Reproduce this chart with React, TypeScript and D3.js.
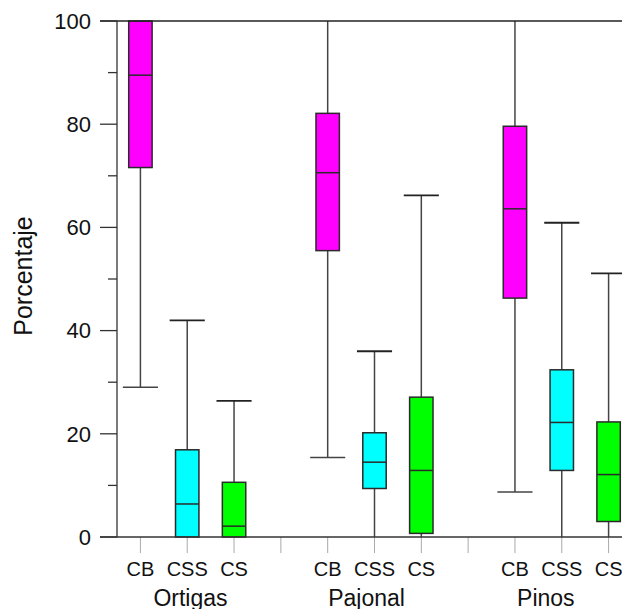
import React from 'react';
import * as d3 from 'd3';

// slots: each group takes 3 slots plus one empty slot between groups
const groups = ['Ortigas', 'Pajonal', 'Pinos'];
const types = ['CB', 'CSS', 'CS'];
const typeColors = ['#ff00ff', '#00ffff', '#00ff00'];
// where the group names sit, in slot units (they are not quite centred)
const groupLabelSlots = [1.07, 4.83, 8.66];

// [min, q1, median, q3, max] per group
const cbStats = [
  [29.0, 71.6, 89.5, 100, 100],
  [15.4, 55.5, 70.6, 82.1, 100],
  [8.7, 46.3, 63.6, 79.6, 100],
];
const cssStats = [
  [0, 0, 6.4, 16.9, 42.0],
  [0, 9.4, 14.5, 20.2, 36.0],
  [0, 12.9, 22.2, 32.4, 60.9],
];
const csStats = [
  [0, 0, 2.1, 10.6, 26.4],
  [0, 0.7, 12.9, 27.1, 66.2],
  [0, 3.0, 12.1, 22.3, 51.1],
];
const yTicks = [0, 10, 20, 30, 40, 50, 60, 70, 80, 90, 100];

const W = 622;
const H = 609;
const left = 117;
const top = 21;
const bottom = 537;
const font = 'Arial, "Liberation Sans", Helvetica, sans-serif';

export default function App() {
  const x = d3.scaleLinear().domain([-0.5, 10.5]).range([left, 632]);
  const y = d3.scaleLinear().domain([0, 100]).range([bottom, top]);
  const step = x(1) - x(0);
  const boxW = step * 0.5;
  const capW = step * 0.75;

  const allStats = [cbStats, cssStats, csStats];
  const boxes: any[] = [];
  groups.forEach((g, gi) => {
    types.forEach((t, ti) => {
      const [mn, q1, md, q3, mx] = allStats[ti][gi];
      const cx = x(gi * 4 + ti);
      boxes.push({ key: g + t, cx, mn, q1, md, q3, mx, color: typeColors[ti], label: t });
    });
  });

  const slots = d3.range(11);

  return (
    <svg width={W} height={H} style={{ position: 'absolute', left: 0, top: 0, display: 'block' }}>
      <rect width={W} height={H} fill="#fff" />

      {/* x ticks under the axis */}
      {slots.map((s) => (
        <line key={'xt' + s} x1={x(s)} x2={x(s)} y1={bottom} y2={bottom + 16} stroke="#aaa" strokeWidth={1} />
      ))}

      {/* whiskers and boxes */}
      {boxes.map((b) => (
        <g key={b.key}>
          <line x1={b.cx} x2={b.cx} y1={y(b.mx)} y2={y(b.q3)} stroke="#444" strokeWidth={1.5} />
          <line x1={b.cx} x2={b.cx} y1={y(b.q1)} y2={y(b.mn)} stroke="#444" strokeWidth={1.5} />
          {b.mx < 100 && (
            <line x1={b.cx - capW / 2} x2={b.cx + capW / 2} y1={y(b.mx)} y2={y(b.mx)} stroke="#222" strokeWidth={1.8} />
          )}
          {b.mn > 0 && (
            <line x1={b.cx - capW / 2} x2={b.cx + capW / 2} y1={y(b.mn)} y2={y(b.mn)} stroke="#444" strokeWidth={1.5} />
          )}
          <rect
            x={b.cx - boxW / 2}
            y={y(b.q3)}
            width={boxW}
            height={y(b.q1) - y(b.q3)}
            fill={b.color}
            stroke="#2a2a2a"
            strokeWidth={1.5}
          />
          <line x1={b.cx - boxW / 2} x2={b.cx + boxW / 2} y1={y(b.md)} y2={y(b.md)} stroke="#2a2a2a" strokeWidth={1.5} />
        </g>
      ))}

      {/* frame lines */}
      <line x1={left} x2={left} y1={top} y2={bottom} stroke="#333" strokeWidth={1.3} />
      <line x1={100} x2={W} y1={bottom} y2={bottom} stroke="#333" strokeWidth={1.3} />
      <line x1={100} x2={W} y1={top} y2={top} stroke="#222" strokeWidth={1.5} />

      {/* y axis ticks and labels */}
      {yTicks.map((v) => {
        const major = v % 20 === 0;
        return (
          <g key={'yt' + v}>
            <line x1={major ? 100 : 108} x2={left} y1={y(v)} y2={y(v)} stroke="#333" strokeWidth={1.3} />
            {major && (
              <text x={91} y={y(v)} dy="0.35em" textAnchor="end" fontFamily={font} fontSize={22} fill="#111">
                {v}
              </text>
            )}
          </g>
        );
      })}

      <text
        transform={`translate(32, 276) rotate(-90)`}
        textAnchor="middle"
        fontFamily={font}
        fontSize={25}
        fill="#111"
      >
        Porcentaje
      </text>

      {/* category labels */}
      {boxes.map((b) => (
        <text key={'l' + b.key} x={b.cx} y={576} textAnchor="middle" fontFamily={font} fontSize={20} fill="#111">
          {b.label}
        </text>
      ))}
      {groups.map((g, gi) => (
        <text key={g} x={x(groupLabelSlots[gi])} y={606} textAnchor="middle" fontFamily={font} fontSize={23} fill="#111">
          {g}
        </text>
      ))}
    </svg>
  );
}
